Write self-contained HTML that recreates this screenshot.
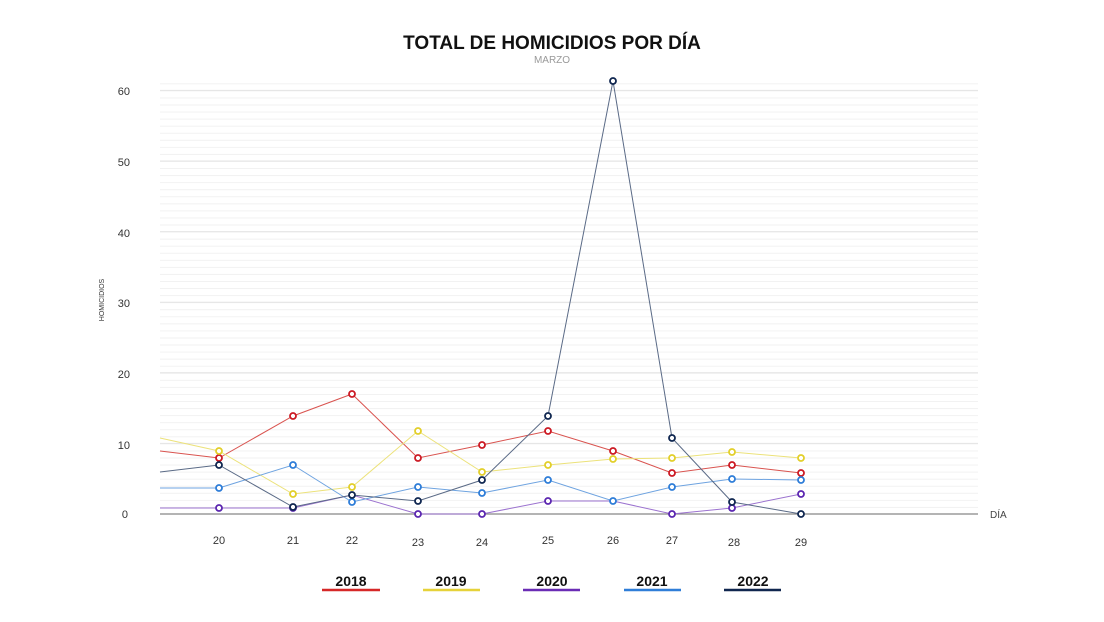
<!DOCTYPE html>
<html><head><meta charset="utf-8"><style>
body{margin:0;background:#fff;}
svg{display:block;font-family:"Liberation Sans",sans-serif;}
</style></head><body>
<svg width="1104" height="622" viewBox="0 0 1104 622">
<defs>
<pattern id="gp" x="160" y="514" width="20" height="7.06" patternUnits="userSpaceOnUse">
<line x1="0" y1="0.5" x2="20" y2="0.5" stroke="#f1f1f1" stroke-width="1"/>
</pattern>
</defs>
<rect width="1104" height="622" fill="#fff"/>
<text x="552" y="49" text-anchor="middle" font-size="19" font-weight="bold" fill="#111">TOTAL DE HOMICIDIOS POR DÍA</text>
<text x="552" y="63" text-anchor="middle" font-size="10" fill="#999">MARZO</text>
<rect x="160" y="81" width="818" height="430" fill="url(#gp)"/>
<g stroke="#e4e4e4" stroke-width="1">
<line x1="160" x2="978" y1="443.4" y2="443.4"/><line x1="160" x2="978" y1="372.8" y2="372.8"/>
<line x1="160" x2="978" y1="302.2" y2="302.2"/><line x1="160" x2="978" y1="231.6" y2="231.6"/>
<line x1="160" x2="978" y1="161" y2="161"/><line x1="160" x2="978" y1="90.4" y2="90.4"/>
</g>
<g font-size="11" fill="#333" text-anchor="end">
<text x="130" y="95">60</text><text x="130" y="166">50</text><text x="130" y="237">40</text>
<text x="130" y="307">30</text><text x="130" y="378">20</text><text x="130" y="449">10</text><text x="128" y="518">0</text>
</g>
<text transform="translate(104,300) rotate(-90)" text-anchor="middle" font-size="7" fill="#333">HOMICIDIOS</text>
<line x1="160" y1="514" x2="978" y2="514" stroke="#888" stroke-width="1.2"/>
<text x="990" y="518" font-size="10" fill="#444">DÍA</text>
<g font-size="11" fill="#333" text-anchor="middle">
<text x="219" y="544">20</text><text x="293" y="544">21</text><text x="352" y="544">22</text><text x="418" y="546">23</text><text x="482" y="546">24</text>
<text x="548" y="544">25</text><text x="613" y="544">26</text><text x="672" y="544">27</text><text x="734" y="546">28</text><text x="801" y="546">29</text>
</g>
<g fill="none" stroke-width="1">
<path stroke="#d9534f" d="M160 451 L219 458 L293 416 L352 394 L418 458 L482 445 L548 431 L613 451 L672 473 L732 465 L801 473"/>
<path stroke="#ece27a" d="M160 438 L219 451 L293 494 L352 487 L418 431 L482 472 L548 465 L613 459 L672 458 L732 452 L801 458"/>
<path stroke="#9b72cf" d="M160 508 L219 508 L293 508 L352 495 L418 514 L482 514 L548 501 L613 501 L672 514 L732 508 L801 494"/>
<path stroke="#6ea3e0" d="M160 488 L219 488 L293 465 L352 502 L418 487 L482 493 L548 480 L613 501 L672 487 L732 479 L801 480"/>
<path stroke="#5a6a86" d="M160 472 L219 465 L293 507 L352 495 L418 501 L482 480 L548 416 L613 81 L672 438 L732 502 L801 514"/>
</g>
<g fill="#fff" stroke-width="1.8">
<g stroke="#cc1a24"><circle cx="219" cy="458" r="3"/><circle cx="293" cy="416" r="3"/><circle cx="352" cy="394" r="3"/><circle cx="418" cy="458" r="3"/><circle cx="482" cy="445" r="3"/><circle cx="548" cy="431" r="3"/><circle cx="613" cy="451" r="3"/><circle cx="672" cy="473" r="3"/><circle cx="732" cy="465" r="3"/><circle cx="801" cy="473" r="3"/></g>
<g stroke="#e2cf2a"><circle cx="219" cy="451" r="3"/><circle cx="293" cy="494" r="3"/><circle cx="352" cy="487" r="3"/><circle cx="418" cy="431" r="3"/><circle cx="482" cy="472" r="3"/><circle cx="548" cy="465" r="3"/><circle cx="613" cy="459" r="3"/><circle cx="672" cy="458" r="3"/><circle cx="732" cy="452" r="3"/><circle cx="801" cy="458" r="3"/></g>
<g stroke="#5b26b0"><circle cx="219" cy="508" r="3"/><circle cx="293" cy="508" r="3"/><circle cx="418" cy="514" r="3"/><circle cx="482" cy="514" r="3"/><circle cx="548" cy="501" r="3"/><circle cx="672" cy="514" r="3"/><circle cx="732" cy="508" r="3"/><circle cx="801" cy="494" r="3"/></g>
<g stroke="#2e7dd8"><circle cx="219" cy="488" r="3"/><circle cx="293" cy="465" r="3"/><circle cx="352" cy="502" r="3"/><circle cx="418" cy="487" r="3"/><circle cx="482" cy="493" r="3"/><circle cx="548" cy="480" r="3"/><circle cx="613" cy="501" r="3"/><circle cx="672" cy="487" r="3"/><circle cx="732" cy="479" r="3"/><circle cx="801" cy="480" r="3"/></g>
<g stroke="#0f2650"><circle cx="219" cy="465" r="3"/><circle cx="293" cy="507" r="3"/><circle cx="352" cy="495" r="3"/><circle cx="418" cy="501" r="3"/><circle cx="482" cy="480" r="3"/><circle cx="548" cy="416" r="3"/><circle cx="613" cy="81" r="3"/><circle cx="672" cy="438" r="3"/><circle cx="732" cy="502" r="3"/><circle cx="801" cy="514" r="3"/></g>
</g>
<g font-size="14" font-weight="bold" fill="#111" text-anchor="middle">
<text x="351" y="586">2018</text><text x="451" y="586">2019</text><text x="552" y="586">2020</text><text x="652" y="586">2021</text><text x="753" y="586">2022</text>
</g>
<g stroke-width="2.5">
<line x1="322" y1="590" x2="380" y2="590" stroke="#d62828"/>
<line x1="423" y1="590" x2="480" y2="590" stroke="#e6d23a"/>
<line x1="523" y1="590" x2="580" y2="590" stroke="#6a2cb5"/>
<line x1="624" y1="590" x2="681" y2="590" stroke="#2f7ed8"/>
<line x1="724" y1="590" x2="781" y2="590" stroke="#10264f"/>
</g>
</svg>
</body></html>
